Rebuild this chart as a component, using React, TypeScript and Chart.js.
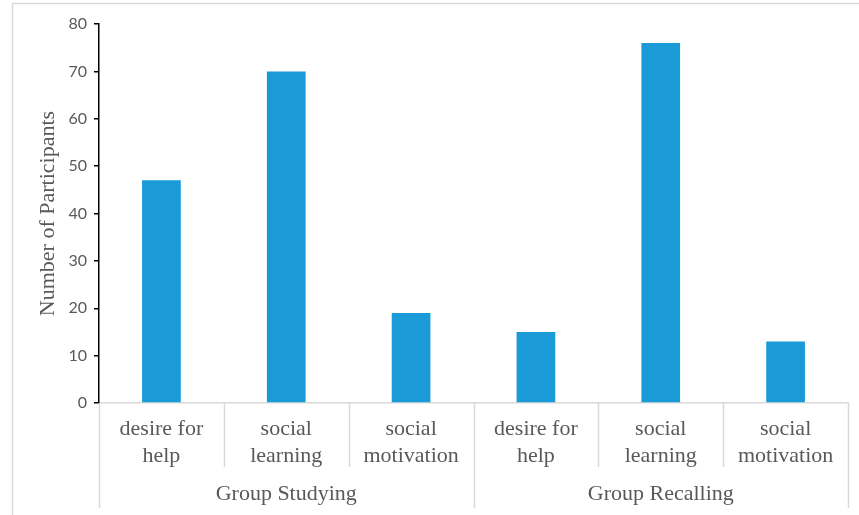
import React, { useEffect, useRef } from "react";
import { Chart, registerables } from "chart.js";

Chart.register(...registerables);

const categories: string[][] = [
  ["desire for", "help"],
  ["social", "learning"],
  ["social", "motivation"],
  ["desire for", "help"],
  ["social", "learning"],
  ["social", "motivation"],
];
const groups: string[] = ["Group Studying", "Group Recalling"];
const participants: number[] = [47, 70, 19, 15, 76, 13];
const yTicks: number[] = [0, 10, 20, 30, 40, 50, 60, 70, 80];

const SERIF = "'Liberation Serif', 'Times New Roman', serif";
const SANS = "Lato, 'Liberation Sans', sans-serif";
const TEXT = "#595959";
const LIGHT = "#d9d9d9";

const decorPlugin = {
  id: "decor",
  beforeDraw(chart: any) {
    const ctx = chart.ctx;
    ctx.save();
    ctx.strokeStyle = LIGHT;
    ctx.lineWidth = 1.5;
    ctx.strokeRect(12.5, 3.5, 1000, 1000);
    ctx.restore();
  },
  afterDraw(chart: any) {
    const ctx = chart.ctx;
    const x = chart.scales.x;
    const area = chart.chartArea;
    const n = categories.length;
    const step = (area.right - area.left) / n;
    const perGroup = n / groups.length;
    ctx.save();
    ctx.strokeStyle = LIGHT;
    ctx.lineWidth = 1.5;
    for (let i = 0; i <= n; i++) {
      const px = Math.round(area.left + i * step) + 0.5;
      const isGroup = i % perGroup === 0;
      ctx.beginPath();
      ctx.moveTo(px, area.bottom);
      ctx.lineTo(px, area.bottom + (isGroup ? 105 : 64));
      ctx.stroke();
    }
    ctx.fillStyle = TEXT;
    ctx.font = `22px ${SERIF}`;
    ctx.textAlign = "center";
    ctx.textBaseline = "middle";
    groups.forEach((g, gi) => {
      let sum = 0;
      for (let k = 0; k < perGroup; k++) sum += x.getPixelForValue(gi * perGroup + k);
      ctx.fillText(g, sum / perGroup, area.bottom + 91);
    });
    ctx.restore();
  },
};

export default function App() {
  const ref = useRef<HTMLCanvasElement | null>(null);
  useEffect(() => {
    if (!ref.current) return;
    const chart = new Chart(ref.current, {
      type: "bar",
      data: {
        labels: categories,
        datasets: [
          {
            label: "Number of Participants",
            data: participants,
            backgroundColor: "#1a9ad6",
            borderWidth: 0,
            barPercentage: 1,
            categoryPercentage: 0.31,
          },
        ],
      },
      options: {
        responsive: false,
        animation: false,
        layout: { padding: { left: 0, top: 24, right: 11, bottom: 0 } },
        plugins: {
          legend: { display: false },
          tooltip: { enabled: false },
        },
        scales: {
          x: {
            type: "category",
            grid: { display: false, drawTicks: false },
            border: { display: true, color: LIGHT, width: 1.5 },
            ticks: {
              color: TEXT,
              font: { family: SERIF, size: 22, lineHeight: 1.25 },
              padding: 12,
              maxRotation: 0,
              autoSkip: false,
            },
            afterFit: (s: any) => {
              s.height = 112;
            },
          },
          y: {
            min: 0,
            max: 80,
            afterBuildTicks: (s: any) => {
              s.ticks = yTicks.map((v) => ({ value: v }));
            },
            grid: {
              display: true,
              drawOnChartArea: false,
              drawTicks: true,
              tickLength: 5,
              color: "#000000",
              lineWidth: 1.5,
            },
            border: { display: true, color: "#000000", width: 1.5 },
            ticks: {
              color: TEXT,
              font: { family: SANS, size: 16 },
              padding: 7,
            },
            title: {
              display: true,
              text: "Number of Participants",
              color: TEXT,
              font: { family: SERIF, size: 22, lineHeight: 1.2 },
              padding: { top: 35, bottom: 0 },
            },
            afterFit: (s: any) => {
              s.width = 99;
            },
          },
        },
      },
      plugins: [decorPlugin],
    });
    return () => chart.destroy();
  }, []);
  return (
    <div style={{ position: "absolute", left: 0, top: 0, width: 859, height: 515, background: "#fff" }}>
      <canvas ref={ref} width={859} height={515} style={{ display: "block" }} />
    </div>
  );
}
